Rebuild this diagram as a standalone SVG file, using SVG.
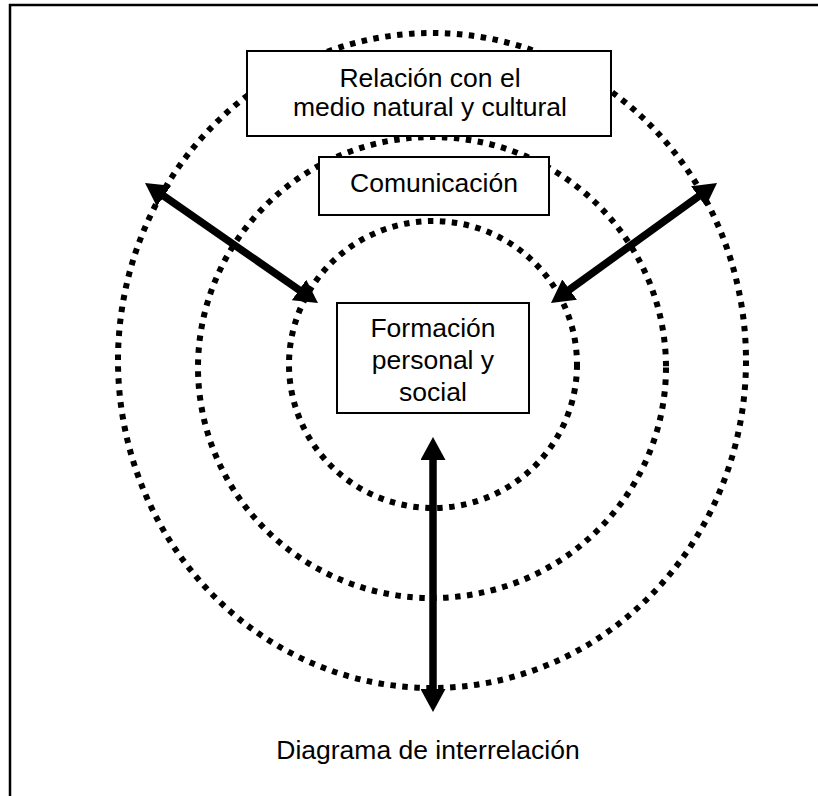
<svg xmlns="http://www.w3.org/2000/svg" width="818" height="796" viewBox="0 0 818 796">
  <style>
    .frame { fill: none; stroke: #000; stroke-width: 2.5; }
    .ring { fill: none; stroke: #000; stroke-width: 6; stroke-dasharray: 5.5 6.5; }
    .box { fill: #fff; stroke: #000; stroke-width: 2; }
    .label { font-family: "Liberation Sans", Arial, sans-serif; font-size: 26.5px; fill: #000; text-anchor: middle; }
    .shaft { stroke: #000; stroke-width: 7.5; fill: none; marker-start: url(#head); marker-end: url(#head); }
  </style>
  <defs>
    <marker id="head" viewBox="0 0 23 25" refX="10" refY="12.5" markerWidth="23" markerHeight="25" markerUnits="userSpaceOnUse" orient="auto-start-reverse">
      <path d="M0,0 L23,12.5 L0,25 Z" fill="#000"/>
    </marker>
  </defs>

  <rect class="frame" x="10" y="5" width="900" height="900"/>

  <!-- dotted rings, outer to inner -->
  <g id="rings">
    <ellipse class="ring" cx="432" cy="360.5" rx="314" ry="327.5"/>
    <ellipse class="ring" cx="432" cy="367.5" rx="234" ry="230.5"/>
    <ellipse class="ring" cx="433" cy="364.5" rx="144" ry="143.5"/>
  </g>

  <!-- double-headed connectors -->
  <g id="connectors">
    <line class="shaft" x1="155.7" y1="190.4" x2="307.3" y2="295.6"/>
    <line class="shaft" x1="706.5" y1="190.6" x2="561.5" y2="295.4"/>
    <line class="shaft" x1="433" y1="450" x2="433" y2="699"/>
  </g>

  <g id="relacion">
    <rect class="box" x="247" y="51" width="364" height="85"/>
    <text class="label" x="430" y="87">Relación con el</text>
    <text class="label" x="430" y="116">medio natural y cultural</text>
  </g>

  <g id="comunicacion">
    <rect class="box" x="319" y="157" width="230" height="58"/>
    <text class="label" x="434" y="192">Comunicación</text>
  </g>

  <g id="formacion">
    <rect class="box" x="337" y="303" width="192" height="110"/>
    <text class="label" x="433" y="337">Formación</text>
    <text class="label" x="433" y="369">personal y</text>
    <text class="label" x="433" y="401">social</text>
  </g>

  <text id="caption" class="label" x="428" y="759">Diagrama de interrelación</text>
</svg>
